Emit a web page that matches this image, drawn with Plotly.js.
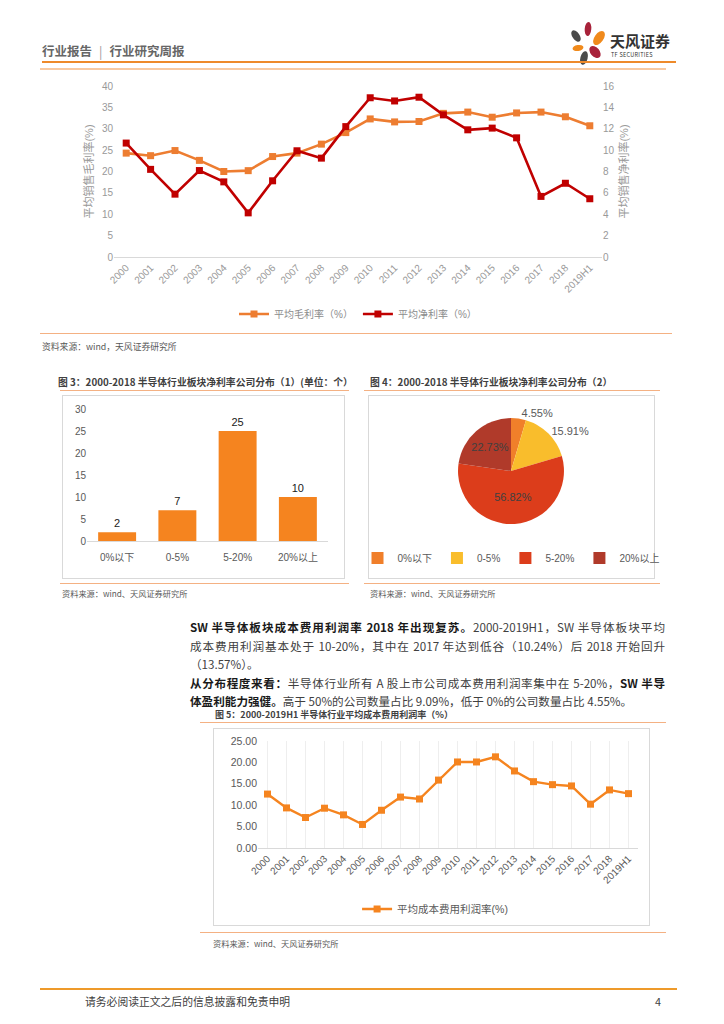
<!DOCTYPE html>
<html><head><meta charset="utf-8">
<script src="https://cdn.plot.ly/plotly-3.0.1.min.js"></script>
<style>
html,body{margin:0;padding:0;background:#fff;}
body{width:724px;height:1024px;position:relative;overflow:hidden;font-family:"Noto Sans CJK SC","Liberation Sans",sans-serif;}
.abs{position:absolute;}
.hl{position:absolute;height:0;}
.src{position:absolute;font-size:8.2px;color:#595959;white-space:nowrap;}
.ttl{position:absolute;font-size:9.8px;font-weight:bold;color:#404040;white-space:nowrap;}
.box{position:absolute;border:1px solid #d9d9d9;box-sizing:border-box;}
.pl{position:absolute;left:190px;width:475px;font-size:11.6px;color:#404040;white-space:nowrap;line-height:18px;}
.j{text-align:justify;text-align-last:justify;}
b{color:#1a1a1a;}
</style></head><body>

<!-- header -->
<div class="abs" style="left:42px;top:41px;font-size:12.5px;font-weight:bold;color:#666;white-space:nowrap;">行业报告<span style="font-weight:normal;color:#999;margin:0 7px;">|</span>行业研究周报</div>
<svg class="abs" style="left:566px;top:18px;" width="40" height="48" viewBox="0 0 40 48">
  <ellipse cx="10" cy="18" rx="3.6" ry="6.5" transform="rotate(-35 10 18)" fill="#4a4a4a"/>
  <ellipse cx="22" cy="11" rx="3.3" ry="7" transform="rotate(5 22 11)" fill="#a8223a"/>
  <ellipse cx="33" cy="20" rx="4.5" ry="8" transform="rotate(35 33 20)" fill="#f08a1c"/>
  <ellipse cx="12" cy="30" rx="5.5" ry="3" transform="rotate(-10 12 30)" fill="#f08a1c"/>
  <ellipse cx="29" cy="34" rx="4.5" ry="7" transform="rotate(-40 29 34)" fill="#a8223a"/>
  <ellipse cx="18" cy="40" rx="3.6" ry="7" transform="rotate(15 18 40)" fill="#4a4a4a"/>
</svg>
<div class="abs" style="left:610px;top:33px;font-size:15px;line-height:16px;font-weight:bold;color:#333;white-space:nowrap;">天风证券</div>
<div class="abs" style="left:611px;top:52px;font-size:5.5px;line-height:6px;color:#333;white-space:nowrap;letter-spacing:0.3px;">TF SECURITIES</div>
<div class="hl" style="left:42px;top:61px;width:634px;border-top:2px solid #ee8a2a;"></div>
<div class="hl" style="left:40px;top:68px;width:626px;border-top:2px solid #f8c9a1;"></div>

<div id="c1" class="abs" style="left:40px;top:70px;width:640px;height:260px;"></div>
<div class="hl" style="left:40px;top:333px;width:632px;border-top:1px solid #f4b183;"></div>
<div class="src" style="left:42px;top:340px;font-size:8.8px;">资料来源：wind，天风证券研究所</div>

<div class="ttl" style="left:58px;top:375px;">图 3：2000-2018 半导体行业板块净利率公司分布（1）(单位：个）</div>
<div class="hl" style="left:60px;top:390px;width:289px;border-top:1px solid #f4b183;"></div>
<div class="box" style="left:62px;top:395px;width:283px;height:184px;"></div>
<div id="c2" class="abs" style="left:62px;top:395px;width:283px;height:183px;"></div>
<div class="hl" style="left:60px;top:583px;width:289px;border-top:1px solid #f4b183;"></div>
<div class="src" style="left:62px;top:587px;">资料来源：wind、天风证券研究所</div>

<div class="ttl" style="left:370px;top:375px;">图 4：2000-2018 半导体行业板块净利率公司分布（2）</div>
<div class="hl" style="left:364px;top:390px;width:296px;border-top:1px solid #f4b183;"></div>
<div class="box" style="left:368px;top:395px;width:287px;height:184px;"></div>
<div id="c3" class="abs" style="left:311px;top:395px;width:400px;height:183px;"></div>
<div class="hl" style="left:364px;top:583px;width:296px;border-top:1px solid #f4b183;"></div>
<div class="src" style="left:370px;top:587px;">资料来源：wind、天风证券研究所</div>

<div class="pl j" style="top:618px;"><b>SW 半导体板块成本费用利润率 2018 年出现复苏。</b>2000-2019H1，SW 半导体板块平均</div>
<div class="pl j" style="top:637px;">成本费用利润基本处于 10-20%，其中在 2017 年达到低谷（10.24%）后 2018 开始回升</div>
<div class="pl" style="top:655px;">（13.57%）。</div>
<div class="pl j" style="top:674px;"><b>从分布程度来看：</b>半导体行业所有 A 股上市公司成本费用利润率集中在 5-20%，<b>SW 半导</b></div>
<div class="pl" style="top:692px;"><b>体盈利能力强健。</b>高于 50%的公司数量占比 9.09%，低于 0%的公司数量占比 4.55%。</div>

<div class="ttl" style="left:215px;top:708px;font-size:9px;">图 5：2000-2019H1 半导体行业平均成本费用利润率（%）</div>
<div class="hl" style="left:200px;top:722px;width:466px;border-top:1px solid #f4b183;"></div>
<div class="box" style="left:213px;top:728px;width:437px;height:198px;"></div>
<div id="c4" class="abs" style="left:213px;top:728px;width:437px;height:197px;"></div>
<div class="hl" style="left:200px;top:932px;width:466px;border-top:1px solid #f4b183;"></div>
<div class="src" style="left:213px;top:937px;">资料来源：wind、天风证券研究所</div>

<div class="hl" style="left:40px;top:988px;width:637px;border-top:2px solid #ee9a2a;"></div>
<div class="abs" style="left:85px;top:993px;font-size:10.8px;color:#404040;white-space:nowrap;">请务必阅读正文之后的信息披露和免责申明</div>
<div class="abs" style="left:655px;top:993px;font-size:10.8px;color:#404040;">4</div>

<script>
// ---------- data ----------
const years = ["2000","2001","2002","2003","2004","2005","2006","2007","2008","2009","2010","2011","2012","2013","2014","2015","2016","2017","2018","2019H1"];
const grossMargin = [24.3,23.7,24.9,22.6,20.0,20.2,23.5,24.3,26.4,29.1,32.3,31.6,31.7,33.6,33.9,32.7,33.7,33.9,32.8,30.7];
const netMargin = [10.66,8.2,5.88,8.09,7.03,4.13,7.13,9.94,9.25,12.2,14.9,14.6,14.95,13.3,11.9,12.06,11.15,5.67,6.9,5.45];
const distCats = ["0%以下","0-5%","5-20%","20%以上"];
const distCounts = [2,7,25,10];
const costProfit = [12.6,9.37,7.12,9.3,7.74,5.5,8.82,11.9,11.45,15.87,20.1,20.1,21.3,18.0,15.5,14.8,14.5,10.24,13.57,12.7];

const FONT = '"Liberation Sans","Noto Sans CJK SC",sans-serif';
const cfg = {staticPlot:true, displayModeBar:false};

// ---------- chart 1 ----------
Plotly.newPlot('c1', [
  {x:years, y:grossMargin, name:'平均毛利率（%）', type:'scatter', mode:'lines+markers',
   line:{color:'#ED7D31', width:2.6}, marker:{symbol:'square', size:7, color:'#ED7D31'}},
  {x:years, y:netMargin, name:'平均净利率（%）', type:'scatter', mode:'lines+markers', yaxis:'y2',
   line:{color:'#C00000', width:2.6}, marker:{symbol:'square', size:7, color:'#C00000'}}
], {
  width:640, height:260, margin:{l:74, r:78, t:16, b:73},
  paper_bgcolor:'rgba(0,0,0,0)', plot_bgcolor:'rgba(0,0,0,0)',
  font:{family:FONT, size:10, color:'#999'},
  showlegend:true,
  legend:{orientation:'h', x:0.5, xanchor:'center', xref:'paper', yref:'container', y:0.0615, yanchor:'middle', font:{size:10, color:'#8c8c8c'}, itemwidth:30},
  xaxis:{type:'category', range:[-0.5,19.5], tickangle:-45, automargin:false, showline:true, linecolor:'#d9d9d9', linewidth:1, ticks:'', showgrid:false, tickfont:{size:10, color:'#999'}},
  yaxis:{range:[0,40], dtick:5, automargin:false, showgrid:false, zeroline:false, ticks:'', tickfont:{size:10, color:'#999'},
    title:{text:'平均销售毛利率(%)', font:{size:11, color:'#999'}, standoff:6}},
  yaxis2:{range:[0,16], dtick:2, automargin:false, overlaying:'y', side:'right', showgrid:false, zeroline:false, ticks:'', tickfont:{size:10, color:'#999'},
    title:{text:'平均销售净利率(%)', font:{size:11, color:'#999'}, standoff:6}}
}, cfg);

// ---------- chart 2 ----------
Plotly.newPlot('c2', [
  {x:distCats, y:distCounts, type:'bar', marker:{color:'#F5841F'}, text:distCounts.map(String), textposition:'outside',
   textfont:{size:11, color:'#1a1a1a', family:FONT}, cliponaxis:false}
], {
  width:283, height:183, margin:{l:25, r:17, t:14, b:37},
  paper_bgcolor:'rgba(0,0,0,0)', plot_bgcolor:'rgba(0,0,0,0)',
  font:{family:FONT, size:10, color:'#595959'}, bargap:0.37, showlegend:false,
  xaxis:{type:'category', automargin:false, showline:true, linecolor:'#d9d9d9', ticks:'', ticklabelstandoff:7, tickfont:{size:10, color:'#595959'}},
  yaxis:{range:[0,30], dtick:5, automargin:false, showgrid:false, zeroline:false, ticks:'', tickfont:{size:10, color:'#595959'}}
}, cfg);

// ---------- chart 3 ----------
Plotly.newPlot('c3', [
  {labels:distCats, values:distCounts, type:'pie', sort:false, direction:'clockwise', rotation:0,
   marker:{colors:['#F07F2A','#F9BD2C','#DC3D1B','#B03A2A'], line:{width:0}},
   textinfo:'percent', texttemplate:'%{percent:.2%}', textposition:['outside','outside','inside','inside'],
   insidetextorientation:'horizontal',
   insidetextfont:{size:11, color:'#404040', family:FONT}, outsidetextfont:{size:11, color:'#595959', family:FONT},
   domain:{x:[0.3675,0.6325], y:[0.295,0.874]}, automargin:false}
], {
  width:400, height:183, margin:{l:0, r:0, t:0, b:0},
  paper_bgcolor:'rgba(0,0,0,0)',
  font:{family:FONT, size:10, color:'#595959'},
  showlegend:true,
  legend:{orientation:'h', x:0.5, xanchor:'center', y:0.109, yanchor:'middle', font:{size:10, color:'#595959'},
    itemwidth:30, traceorder:'normal'}
}, cfg);

// ---------- chart 4 ----------
Plotly.newPlot('c4', [
  {x:years, y:costProfit, name:'平均成本费用利润率(%)', type:'scatter', mode:'lines+markers',
   line:{color:'#F5841F', width:2.4}, marker:{symbol:'square', size:7, color:'#F5841F'}}
], {
  width:437, height:197, margin:{l:44.5, r:11.5, t:13, b:77},
  paper_bgcolor:'rgba(0,0,0,0)', plot_bgcolor:'rgba(0,0,0,0)',
  font:{family:FONT, size:10, color:'#595959'},
  showlegend:true,
  legend:{orientation:'h', x:0.466, xanchor:'center', xref:'paper', yref:'container', y:0.081, yanchor:'middle', font:{size:10.5, color:'#595959'}},
  xaxis:{type:'category', range:[-0.5,19.5], tickangle:-45, automargin:false, showline:true, linecolor:'#d9d9d9', ticks:'', tickfont:{size:10, color:'#595959'}},
  yaxis:{range:[0,25], dtick:5, tickformat:'.2f', automargin:false, showgrid:false, zeroline:false, ticks:'', tickfont:{size:10.5, color:'#595959'}}
}, cfg);
</script>
</body></html>
